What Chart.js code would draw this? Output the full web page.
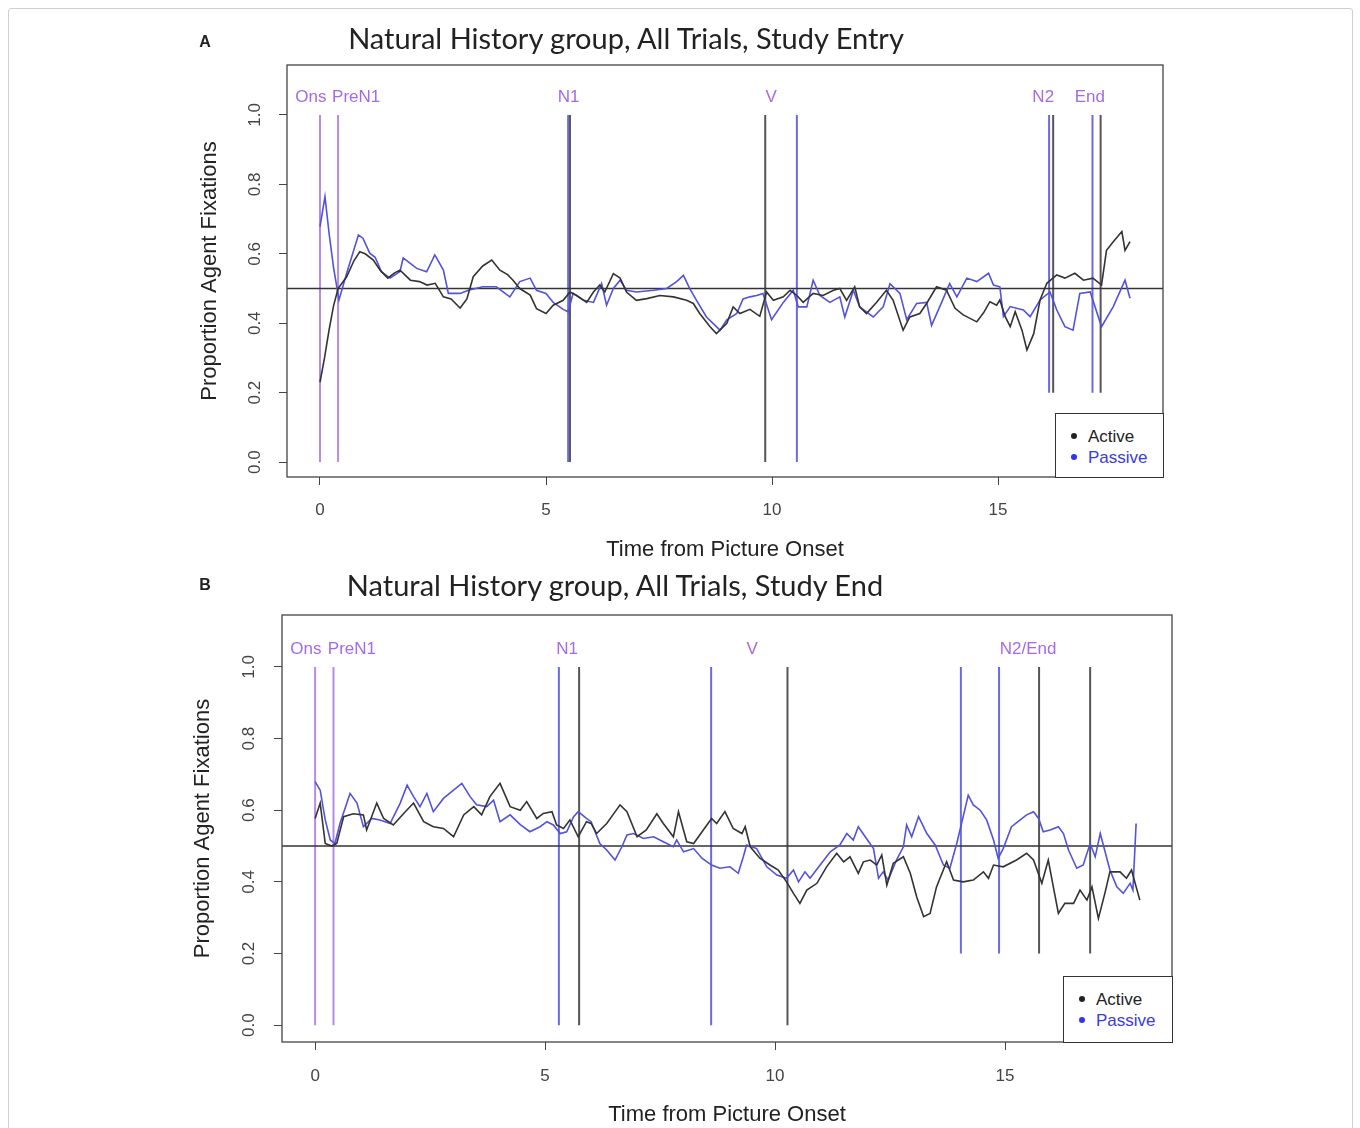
<!DOCTYPE html>
<html>
<head>
<meta charset="utf-8">
<script src="https://cdn.jsdelivr.net/npm/chart.js@4.4.1/dist/chart.umd.min.js"></script>
<style>
  body { margin: 0; background: #fff; width: 1360px; height: 1128px; overflow: hidden; position: relative;
         font-family: 'Liberation Sans', Arial, sans-serif; }
  .frame { position: absolute; left: 8px; top: 8px; width: 1343px; height: 1140px; border: 1px solid #cfcfcf; border-radius: 3px; }
  canvas { position: absolute; left: 0; }
  .title { position: absolute; transform: translate(-50%, -50%); font-family: Lato, 'Open Sans', sans-serif;
           font-size: 29px; color: #222; white-space: nowrap; }
  .tag { position: absolute; transform: translate(-50%, -50%); font-weight: bold; font-size: 16px; color: #222; }
  .legend { position: absolute; box-sizing: border-box; border: 1px solid #333; background: #fff; font-size: 17px; }
  .legend div { position: absolute; left: 0; height: 21px; line-height: 21px; white-space: nowrap; }
  .legend i { display: inline-block; width: 6px; height: 6px; border-radius: 50%; vertical-align: middle;
              margin: -3px 11px 0 15px; }
</style>
</head>
<body>
<div class="frame"></div>
<canvas id="entry" width="1360" height="570" style="top:0"></canvas>
<canvas id="exit" width="1360" height="558" style="top:570px"></canvas>

<div class="tag" style="left:205px;top:42px">A</div>
<div class="title" style="left:626px;top:37px">Natural History group, All Trials, Study Entry</div>
<div class="tag" style="left:205px;top:585px">B</div>
<div class="title" style="left:615px;top:584px">Natural History group, All Trials, Study End</div>

<div class="legend" style="left:1055px;top:413px;width:109px;height:65px">
  <div style="top:12px"><i style="background:#222"></i><span style="color:#222">Active</span></div>
  <div style="top:33px"><i style="background:#3333ee"></i><span style="color:#3a3ae0">Passive</span></div>
</div>
<div class="legend" style="left:1063px;top:976px;width:110px;height:67px">
  <div style="top:12px"><i style="background:#222"></i><span style="color:#222">Active</span></div>
  <div style="top:33px"><i style="background:#3333ee"></i><span style="color:#3a3ae0">Passive</span></div>
</div>

<script>
// axis ticks (time in s, proportion)
const xTicks = [0, 5, 10, 15];
const yTicks = [0, 0.2, 0.4, 0.6, 0.8, 1.0];
const labelLevel = 1.05;
const refLevel = 0.5;

// Panel A: study entry
const entryActiveT = [0,0.1,0.2,0.3,0.4,0.59,0.75,0.88,1.0,1.18,1.33,1.5,1.65,1.77,2.0,2.2,2.37,2.55,2.73,2.9,
  3.1,3.25,3.39,3.6,3.8,3.98,4.15,4.27,4.42,4.65,4.79,5.0,5.16,5.38,5.53,5.68,5.9,6.05,6.19,6.3,
  6.49,6.64,6.78,7.0,7.23,7.52,7.82,8.11,8.26,8.4,8.63,8.77,9.0,9.14,9.29,9.51,9.73,9.88,10.03,10.25,
  10.4,10.55,10.69,10.91,11.13,11.36,11.5,11.65,11.83,11.94,12.09,12.31,12.53,12.68,12.9,13.05,13.27,13.42,13.64,13.86,
  14.05,14.23,14.53,14.68,14.82,14.97,15.04,15.16,15.27,15.38,15.53,15.64,15.79,15.93,16.08,16.3,16.48,16.7,16.89,17.1,
  17.29,17.4,17.55,17.74,17.81,17.92];
const entryActiveV = [0.23,0.30,0.38,0.45,0.50,0.534,0.58,0.606,0.60,0.582,0.553,0.53,0.545,0.553,0.524,0.52,0.51,0.515,0.476,0.47,
  0.444,0.47,0.534,0.565,0.582,0.553,0.54,0.524,0.5,0.481,0.442,0.428,0.452,0.466,0.49,0.48,0.46,0.49,0.51,0.49,
  0.543,0.53,0.49,0.466,0.471,0.48,0.476,0.466,0.457,0.428,0.39,0.37,0.40,0.447,0.428,0.44,0.42,0.49,0.466,0.476,
  0.495,0.48,0.46,0.486,0.48,0.495,0.5,0.466,0.505,0.447,0.428,0.46,0.495,0.466,0.38,0.418,0.428,0.457,0.505,0.495,
  0.443,0.424,0.404,0.43,0.462,0.452,0.467,0.419,0.39,0.433,0.38,0.323,0.37,0.467,0.515,0.539,0.53,0.544,0.524,0.53,
  0.51,0.61,0.635,0.664,0.61,0.635];
const entryPassiveT = [0,0.11,0.2,0.3,0.42,0.59,0.85,0.95,1.1,1.22,1.36,1.55,1.77,1.84,1.99,2.14,2.36,2.54,2.73,2.84,
  3.1,3.3,3.6,3.9,4.2,4.42,4.65,4.79,5.0,5.16,5.38,5.49,5.6,5.83,6.05,6.23,6.34,6.49,6.64,6.78,
  7.0,7.38,7.67,7.89,8.04,8.18,8.33,8.55,8.85,9.0,9.22,9.36,9.51,9.66,9.8,9.99,10.25,10.47,10.58,10.77,
  10.91,11.06,11.28,11.5,11.61,11.8,11.94,12.24,12.46,12.61,12.83,12.98,13.2,13.42,13.53,13.71,13.93,14.09,14.31,14.53,
  14.79,14.9,15.04,15.12,15.27,15.41,15.56,15.71,15.93,16.15,16.3,16.48,16.66,16.81,17.04,17.29,17.55,17.81,17.92];
const entryPassiveV = [0.678,0.765,0.66,0.56,0.467,0.544,0.654,0.645,0.602,0.59,0.548,0.53,0.549,0.588,0.573,0.558,0.548,0.597,0.553,0.486,
  0.486,0.496,0.505,0.505,0.476,0.52,0.53,0.495,0.486,0.46,0.44,0.433,0.486,0.466,0.46,0.514,0.452,0.5,0.524,0.495,
  0.49,0.495,0.5,0.52,0.538,0.5,0.466,0.418,0.38,0.41,0.428,0.47,0.476,0.48,0.486,0.41,0.46,0.495,0.447,0.447,
  0.524,0.48,0.46,0.476,0.418,0.495,0.447,0.418,0.447,0.514,0.486,0.41,0.457,0.46,0.394,0.447,0.514,0.476,0.53,0.52,
  0.544,0.51,0.505,0.419,0.448,0.443,0.438,0.419,0.467,0.49,0.438,0.39,0.38,0.486,0.49,0.39,0.448,0.524,0.472];
const entryEventT = [0, 0.4, 5.49, 5.53, 9.85, 10.55, 16.13, 16.22, 17.09, 17.27];
const entryEventLow = [0, 0, 0, 0, 0, 0, 0.2, 0.2, 0.2, 0.2];
const entryEventGroup = ['marker', 'marker', 'Passive', 'Active', 'Active', 'Passive', 'Passive', 'Active', 'Passive', 'Active'];
const entryLabels = ['Ons', 'PreN1', 'N1', 'V', 'N2', 'End'];
const entryLabelT = [-0.2, 0.8, 5.5, 9.98, 16.0, 17.03];

// Panel B: study end
const exitActiveT = [0,0.11,0.22,0.36,0.47,0.62,0.83,1.05,1.12,1.34,1.49,1.7,1.92,2.14,2.36,2.57,2.79,3.01,3.23,3.45,
  3.62,3.8,4.02,4.24,4.46,4.6,4.82,4.96,5.15,5.25,5.4,5.54,5.72,5.9,6.0,6.12,6.34,6.63,6.78,7.0,
  7.2,7.43,7.57,7.79,7.9,8.08,8.23,8.44,8.62,8.73,8.91,9.09,9.28,9.35,9.46,9.67,9.89,10.07,10.25,10.4,
  10.54,10.69,10.91,11.12,11.34,11.49,11.63,11.81,11.92,12.07,12.21,12.32,12.43,12.57,12.79,12.94,13.08,13.23,13.37,13.51,
  13.73,13.88,14.09,14.31,14.53,14.64,14.75,14.96,15.25,15.47,15.62,15.8,15.94,16.05,16.16,16.3,16.49,16.63,16.78,16.89,
  17.03,17.17,17.28,17.5,17.64,17.75,17.93];
const exitActiveV = [0.577,0.62,0.507,0.5,0.507,0.582,0.59,0.587,0.545,0.62,0.577,0.559,0.59,0.62,0.568,0.554,0.549,0.526,0.587,0.61,
  0.587,0.638,0.675,0.61,0.6,0.624,0.577,0.591,0.596,0.559,0.549,0.573,0.526,0.568,0.563,0.535,0.563,0.615,0.596,0.526,
  0.545,0.59,0.563,0.526,0.596,0.512,0.507,0.545,0.577,0.563,0.596,0.549,0.535,0.554,0.498,0.466,0.447,0.433,0.4,0.368,
  0.34,0.377,0.396,0.442,0.48,0.456,0.47,0.424,0.456,0.461,0.447,0.475,0.391,0.452,0.47,0.424,0.358,0.303,0.312,0.386,
  0.456,0.405,0.4,0.405,0.428,0.41,0.447,0.442,0.461,0.48,0.461,0.396,0.461,0.386,0.312,0.34,0.34,0.377,0.349,0.386,
  0.298,0.368,0.428,0.428,0.41,0.433,0.349];
const exitPassiveT = [0,0.11,0.22,0.33,0.43,0.54,0.76,0.91,1.05,1.23,1.41,1.63,1.85,2.0,2.14,2.28,2.43,2.57,2.79,3.01,
  3.19,3.37,3.51,3.73,3.88,4.02,4.24,4.46,4.67,4.89,5.04,5.18,5.33,5.47,5.62,5.72,5.9,6.0,6.19,6.34,
  6.52,6.67,6.78,6.92,7.14,7.36,7.57,7.79,7.86,8.01,8.23,8.41,8.62,8.8,9.02,9.2,9.31,9.38,9.6,9.82,
  10.04,10.25,10.4,10.51,10.65,10.76,10.98,11.2,11.41,11.56,11.7,11.81,11.96,12.14,12.25,12.35,12.46,12.64,12.79,12.86,
  12.97,13.12,13.3,13.48,13.66,13.8,13.95,14.09,14.2,14.31,14.46,14.6,14.75,14.85,14.96,15.14,15.33,15.47,15.62,15.73,
  15.83,15.98,16.16,16.27,16.38,16.56,16.7,16.85,16.96,17.07,17.28,17.43,17.57,17.72,17.78,17.85];
const exitPassiveV = [0.68,0.656,0.573,0.517,0.507,0.563,0.647,0.62,0.554,0.577,0.573,0.563,0.62,0.67,0.638,0.61,0.647,0.596,0.633,0.656,
  0.675,0.638,0.615,0.61,0.628,0.568,0.587,0.56,0.54,0.554,0.568,0.559,0.535,0.54,0.582,0.596,0.577,0.568,0.507,0.489,
  0.461,0.498,0.531,0.535,0.521,0.526,0.512,0.498,0.517,0.484,0.493,0.466,0.447,0.438,0.442,0.424,0.47,0.503,0.493,0.442,
  0.419,0.41,0.433,0.4,0.428,0.41,0.447,0.484,0.503,0.535,0.517,0.554,0.526,0.493,0.41,0.428,0.405,0.461,0.498,0.559,
  0.526,0.582,0.535,0.503,0.447,0.438,0.507,0.582,0.642,0.615,0.6,0.573,0.517,0.466,0.493,0.554,0.573,0.587,0.596,0.577,
  0.54,0.545,0.554,0.535,0.489,0.438,0.447,0.507,0.47,0.535,0.433,0.386,0.368,0.396,0.377,0.563];
const exitEventT = [0, 0.4, 5.3, 5.74, 8.61, 10.27, 14.04, 14.87, 15.74, 16.85];
const exitEventLow = [0, 0, 0, 0, 0, 0, 0.2, 0.2, 0.2, 0.2];
const exitEventGroup = ['marker', 'marker', 'Passive', 'Active', 'Passive', 'Active', 'Passive', 'Passive', 'Active', 'Active'];
const exitLabels = ['Ons', 'PreN1', 'N1', 'V', 'N2/End'];
const exitLabelT = [-0.2, 0.8, 5.48, 9.5, 15.5];

const colors = { Active: '#333333', Passive: '#5252dc', marker: '#b58be9', label: '#a56ae6' };
const eventColors = { Active: '#555555', Passive: '#6a6ae6', marker: '#b58be9' };

Chart.defaults.font.family = "'Liberation Sans', Arial, sans-serif";

// box, R-style rotated y labels and event names
const panelDecor = {
  id: 'panelDecor',
  afterDatasetsDraw(chart, args, opts) {
    const { ctx, chartArea: a, scales: { x, y } } = chart;
    ctx.save();
    ctx.strokeStyle = '#444';
    ctx.lineWidth = 1.3;
    ctx.strokeRect(a.left, a.top, a.right - a.left, a.bottom - a.top);
    ctx.font = '17px "Liberation Sans"';
    ctx.textAlign = 'center';
    ctx.textBaseline = 'middle';
    ctx.fillStyle = '#444';
    y.ticks.forEach(t => {
      ctx.save();
      ctx.translate(a.left - opts.labelGap, y.getPixelForValue(t.value));
      ctx.rotate(-Math.PI / 2);
      ctx.fillText(t.label, 0, 0);
      ctx.restore();
    });
    ctx.fillStyle = colors.label;
    opts.names.forEach((s, i) => {
      ctx.fillText(s, x.getPixelForValue(opts.nameT[i]), y.getPixelForValue(labelLevel));
    });
    ctx.restore();
  }
};

const pts = (T, V) => T.map((t, i) => ({ x: t, y: V[i] }));

function makePanel(id, p) {
  const datasets = [
    { data: pts(p.activeT, p.activeV), borderColor: colors.Active, borderWidth: 1.6 },
    { data: pts(p.passiveT, p.passiveV), borderColor: colors.Passive, borderWidth: 1.6 },
    { data: [{ x: p.xMin, y: refLevel }, { x: p.xMax, y: refLevel }], borderColor: '#333', borderWidth: 1.5 }
  ];
  p.eventT.forEach((t, i) => {
    datasets.push({
      data: [{ x: t, y: p.eventLow[i] }, { x: t, y: 1 }],
      borderColor: eventColors[p.eventGroup[i]],
      borderWidth: 2
    });
  });
  datasets.forEach(d => { d.pointRadius = 0; d.tension = 0; d.fill = false; });

  new Chart(document.getElementById(id), {
    type: 'line',
    data: { datasets },
    plugins: [panelDecor],
    options: {
      responsive: false,
      animation: false,
      events: [],
      layout: { padding: p.pad },
      plugins: {
        legend: { display: false },
        tooltip: { enabled: false },
        panelDecor: { labelGap: p.labelGap, names: p.names, nameT: p.nameT }
      },
      scales: {
        x: {
          type: 'linear', min: p.xMin, max: p.xMax,
          afterBuildTicks: s => { s.ticks = xTicks.map(v => ({ value: v })); },
          afterFit: s => { s.height = p.xBox; },
          ticks: { font: { size: 17 }, color: '#444', padding: p.xTickPad, maxRotation: 0, callback: v => String(v) },
          grid: { drawOnChartArea: false, tickLength: 8, color: '#444' },
          border: { display: false },
          title: { display: true, text: 'Time from Picture Onset', font: { size: 22 }, color: '#222',
                   padding: { top: 4, bottom: p.xTitlePad } }
        },
        y: {
          type: 'linear', min: p.yMin, max: p.yMax,
          afterBuildTicks: s => { s.ticks = yTicks.map(v => ({ value: v })); },
          afterFit: s => { s.width = p.yBox; },
          ticks: { display: false, callback: v => v.toFixed(1) },
          grid: { drawOnChartArea: false, tickLength: 8, color: '#444' },
          border: { display: false },
          title: { display: true, text: 'Proportion Agent Fixations', font: { size: 22 }, color: '#222',
                   padding: { top: 4, bottom: 4 } }
        }
      }
    }
  });
}

makePanel('entry', {
  activeT: entryActiveT, activeV: entryActiveV, passiveT: entryPassiveT, passiveV: entryPassiveV,
  eventT: entryEventT, eventLow: entryEventLow, eventGroup: entryEventGroup,
  names: entryLabels, nameT: entryLabelT,
  xMin: -0.73, xMax: 18.65, yMin: -0.043, yMax: 1.144,
  pad: { left: 193, right: 197, top: 65, bottom: 4 },
  yBox: 94, xBox: 89, xTickPad: 15, xTitlePad: 3, labelGap: 32
});

makePanel('exit', {
  activeT: exitActiveT, activeV: exitActiveV, passiveT: exitPassiveT, passiveV: exitPassiveV,
  eventT: exitEventT, eventLow: exitEventLow, eventGroup: exitEventGroup,
  names: exitLabels, nameT: exitLabelT,
  xMin: -0.72, xMax: 18.63, yMin: -0.047, yMax: 1.145,
  pad: { left: 186, right: 188, top: 45, bottom: 0 },
  yBox: 96, xBox: 86, xTickPad: 16, xTitlePad: 0, labelGap: 33
});
</script>
</body>
</html>
